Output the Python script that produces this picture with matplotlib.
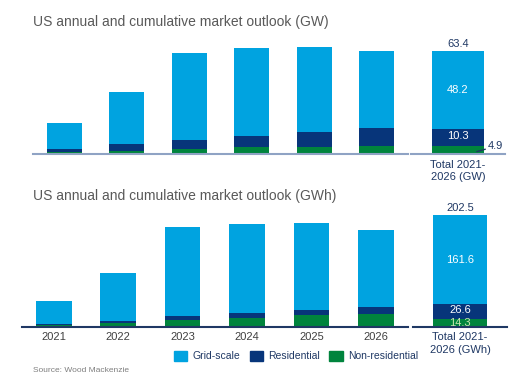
import numpy as np
import matplotlib.pyplot as plt
from matplotlib.patches import Patch

plt.rcParams['font.family'] = ['Liberation Sans', 'DejaVu Sans']

years = ['2021', '2022', '2023', '2024', '2025', '2026']

# GW (annual)
gw_grid = [3.2, 6.5, 10.8, 10.9, 10.5, 9.6]
gw_res = [0.4, 0.8, 1.2, 1.4, 1.9, 2.2]
gw_nonres = [0.2, 0.4, 0.6, 0.9, 0.9, 1.0]
gw_total = [48.2, 10.3, 4.9]  # grid, residential, non-residential
gw_sum = 63.4

# GWh (annual)
gwh_grid = [9.8, 19.9, 37.5, 37.4, 36.4, 32.1]
gwh_res = [0.3, 0.8, 1.6, 2.1, 2.2, 3.1]
gwh_nonres = [0.8, 1.7, 2.7, 3.8, 4.9, 5.3]
gwh_total = [161.6, 26.6, 14.3]
gwh_sum = 202.5

c_grid = '#00a3e0'
c_res = '#07357a'
c_non = '#00843d'
txt = '#404040'
navy = '#1f3864'

W, H = 529, 376
fig = plt.figure(figsize=(W / 100, H / 100), dpi=100)


def ax_at(x0, x1, ybase, ytop):
    return fig.add_axes([x0 / W, (H - ybase) / H, (x1 - x0) / W, (ybase - ytop) / H])


def style(ax, spine_color):
    for s in ['top', 'right', 'left']:
        ax.spines[s].set_visible(False)
    ax.spines['bottom'].set_color(spine_color)
    ax.spines['bottom'].set_linewidth(1.5)
    ax.set_yticks([])
    ax.tick_params(axis='x', length=0, labelsize=8, labelcolor=txt, pad=4)


def annual(ax, grid, res, non, width, ymax, spine_color, show_years):
    x = np.arange(len(years))
    ax.bar(x, non, width, color=c_non)
    ax.bar(x, res, width, bottom=non, color=c_res)
    ax.bar(x, grid, width, bottom=np.add(non, res), color=c_grid)
    ax.set_xlim(-0.5, 5.5)
    ax.set_ylim(0, ymax)
    style(ax, spine_color)
    ax.set_xticks(x)
    ax.set_xticklabels(years if show_years else [''] * len(years))


def total(ax, vals, tot, width, ymax, spine_color, label):
    g, r, n = vals
    ax.bar(0, n, width, color=c_non)
    ax.bar(0, r, width, bottom=n, color=c_res)
    ax.bar(0, g, width, bottom=n + r, color=c_grid)
    ax.set_xlim(-0.5, 0.5)
    ax.set_ylim(0, ymax)
    style(ax, spine_color)
    ax.set_xticks([0])
    ax.set_xticklabels([label], fontsize=8, color=navy, linespacing=1.3)
    ax.text(0, tot + ymax * 0.02, f'{tot}', ha='center', va='bottom', fontsize=8, color=navy)
    ax.text(0, n + r + g / 2, f'{g}', ha='center', va='center', fontsize=8, color='white')
    return g, r, n


# top panel (GW)
ax1 = ax_at(33, 408, 154, 40)
annual(ax1, gw_grid, gw_res, gw_nonres, 0.56, 14.2, '#8fa3c4', False)
ax2 = ax_at(411, 505, 154, 40)
g, r, n = total(ax2, gw_total, gw_sum, 0.553, 70.1, '#8fa3c4', 'Total 2021-\n2026 (GW)')
ax2.text(0, n + r / 2 + 0.8, f'{r}', ha='center', va='center', fontsize=8, color='white')
ax2.annotate(f'{n}', xy=(0.2, n * 0.3), xytext=(0.32, n * 0.95), fontsize=8, color=navy,
             va='center', ha='left',
             arrowprops=dict(arrowstyle='-', color=navy, lw=1.0, shrinkA=0, shrinkB=0,
                             relpos=(0, 0.3)))

# bottom panel (GWh)
ax3 = ax_at(21.7, 408, 326.7, 205)
annual(ax3, gwh_grid, gwh_res, gwh_nonres, 0.554, 51.2, navy, True)
ax4 = ax_at(413, 507, 326.7, 205)
g, r, n = total(ax4, gwh_total, gwh_sum, 0.574, 220.6, navy, 'Total 2021-\n2026 (GWh)')
ax4.text(0, n + r / 2 + 2, f'{r}', ha='center', va='center', fontsize=8, color='white')
ax4.text(0, n / 2 - 1, f'{n}', ha='center', va='center', fontsize=8, color='#c8e6b0')

fig.text(33 / W, 1 - 22 / H, 'US annual and cumulative market outlook (GW)',
         fontsize=10, color='#595959', va='center')
fig.text(33 / W, 1 - 195.7 / H, 'US annual and cumulative market outlook (GWh)',
         fontsize=10, color='#595959', va='center')

handles = [Patch(color=c_grid, label='Grid-scale'),
           Patch(color=c_res, label='Residential'),
           Patch(color=c_non, label='Non-residential')]
leg = fig.legend(handles=handles, loc='center', bbox_to_anchor=(296 / W, 1 - 356 / H), ncol=3,
                 frameon=False, fontsize=7.5, handlelength=1.3, handleheight=1.2,
                 handletextpad=0.5, columnspacing=0.9)
for t in leg.get_texts():
    t.set_color(navy)

fig.text(33 / W, 1.5 / H, 'Source: Wood Mackenzie', fontsize=6, color='#7f7f7f', va='bottom')

fig.savefig('out.png', dpi=100)
